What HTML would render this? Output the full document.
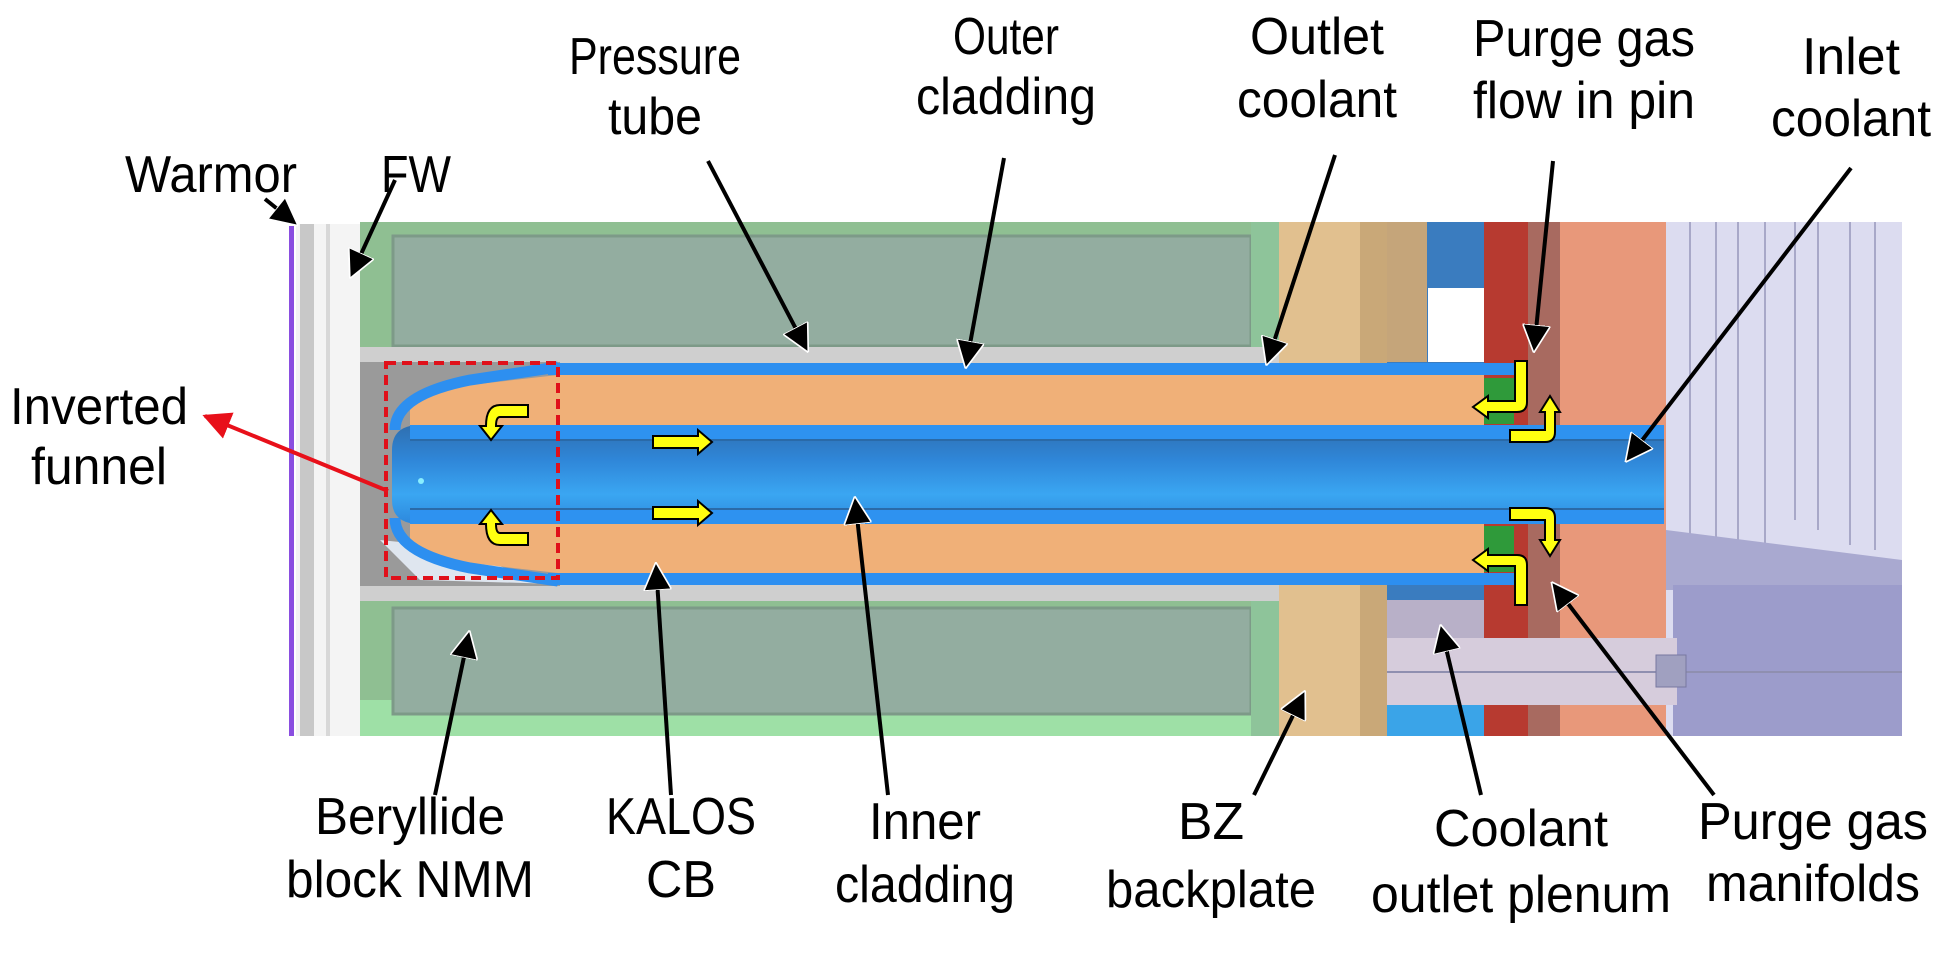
<!DOCTYPE html>
<html><head><meta charset="utf-8"><style>
html,body{margin:0;padding:0;background:#fff;}
svg{display:block;}
text{font-family:"Liberation Sans",Arial,sans-serif;font-size:52px;fill:#000;text-anchor:middle;}
</style></head><body>
<svg width="1938" height="953" viewBox="0 0 1938 953" xmlns="http://www.w3.org/2000/svg">
<defs>
<linearGradient id="tube" x1="0" y1="0" x2="0" y2="1">
<stop offset="0" stop-color="#2f6fb0"/><stop offset="0.35" stop-color="#2f86d8"/><stop offset="0.7" stop-color="#3aa6f2"/><stop offset="1" stop-color="#2d88dc"/>
</linearGradient>
<marker id="ah" viewBox="0 0 10 10" refX="9" refY="5" markerWidth="7" markerHeight="7" orient="auto-start-reverse" markerUnits="strokeWidth">
<path d="M0,0 L10,5 L0,10 z" fill="#000" stroke="#fff" stroke-width="0.6"/></marker>
<marker id="ahr" viewBox="0 0 10 10" refX="9" refY="5" markerWidth="7" markerHeight="7" orient="auto" markerUnits="strokeWidth">
<path d="M0,0 L10,5 L0,10 z" fill="#e8101a"/></marker>
</defs>

<rect x="296" y="224" width="64" height="512" fill="#f4f4f4"/>
<rect x="300" y="224" width="14" height="512" fill="#c8c8c8"/>
<rect x="326" y="224" width="4" height="512" fill="#d8d8d8"/>
<rect x="289" y="226" width="5" height="510" fill="#8a4ee0"/>
<rect x="360" y="222" width="920" height="514" fill="#8fbf92"/>
<rect x="360" y="700" width="920" height="36" fill="#9ee0a6"/>
<rect x="393" y="236" width="858" height="110" fill="#93ada0" stroke="#7d9a88" stroke-width="3"/>
<rect x="393" y="608" width="858" height="106" fill="#93ada0" stroke="#7d9a88" stroke-width="3"/>
<rect x="1251" y="222" width="28" height="514" fill="#8ec49a"/>
<rect x="360" y="347" width="1030" height="16" fill="#cfcfcf"/>
<rect x="360" y="585" width="1030" height="16" fill="#cfcfcf"/>
<rect x="360" y="362" width="200" height="224" fill="#9a9a9a"/>
<path d="M380,540 L420,580 L558,584 L430,545 Z" fill="#dfe6ef"/>
<rect x="1279" y="222" width="108" height="514" fill="#e1c08f"/>
<rect x="1360" y="222" width="27" height="514" fill="#c9a878"/>
<rect x="1387" y="222" width="97" height="514" fill="#3a7cbf"/>
<rect x="1387" y="222" width="40" height="140" fill="#c5a57a"/>
<rect x="1428" y="288" width="56" height="74" fill="#ffffff"/>
<rect x="1387" y="600" width="97" height="40" fill="#b8b0c8"/>
<rect x="1387" y="705" width="97" height="31" fill="#3aa4e8"/>
<rect x="1484" y="222" width="44" height="514" fill="#b73a30"/>
<rect x="1528" y="222" width="32" height="514" fill="#a86a60"/>
<rect x="1560" y="222" width="106" height="514" fill="#e8987a"/>
<rect x="1666" y="222" width="236" height="514" fill="#dcdcf0"/>
<g stroke="#a8a8c8" stroke-width="2">
<line x1="1690" y1="222" x2="1690" y2="560"/><line x1="1716" y1="222" x2="1716" y2="570"/>
<line x1="1738" y1="222" x2="1738" y2="580"/><line x1="1765" y1="222" x2="1765" y2="585"/>
<line x1="1795" y1="222" x2="1795" y2="520"/><line x1="1818" y1="222" x2="1818" y2="530"/>
<line x1="1850" y1="222" x2="1850" y2="545"/><line x1="1875" y1="222" x2="1875" y2="550"/>
</g>
<path d="M1666,530 L1902,560 L1902,590 L1666,590 Z" fill="#a9a9d0"/>
<rect x="1673" y="585" width="229" height="151" fill="#9c9ccb"/>
<rect x="1387" y="638" width="290" height="67" fill="#d6ccdc"/>
<line x1="1387" y1="672" x2="1902" y2="672" stroke="#8f8fb0" stroke-width="2"/>
<rect x="1656" y="655" width="30" height="32" fill="#a0a0c0" stroke="#7878a0"/>

<rect x="548" y="363" width="968" height="12" fill="#2d8ff0"/>
<rect x="548" y="573" width="968" height="12" fill="#2d8ff0"/>
<path d="M410,410 Q420,395 470,385 L558,375 L1484,375 L1484,425 L410,425 Z" fill="#f0b078"/>
<path d="M410,538 Q420,553 470,563 L558,573 L1484,573 L1484,524 L410,524 Z" fill="#f0b078"/>
<path d="M558,367 L470,380 Q395,395 395,430" fill="none" stroke="#2d8ff0" stroke-width="11"/>
<path d="M558,581 L470,568 Q395,553 395,518" fill="none" stroke="#2d8ff0" stroke-width="11"/>
<rect x="1484" y="378" width="30" height="46" fill="#2f9a3a"/>
<rect x="1484" y="526" width="30" height="46" fill="#2f9a3a"/>
<path d="M1664,425 L420,425 Q392,425 392,450 L392,500 Q392,524 420,524 L1664,524 Z" fill="url(#tube)"/>
<rect x="410" y="425" width="1254" height="14" fill="#2e92f0"/>
<rect x="410" y="510" width="1254" height="14" fill="#2e92f0"/>
<line x1="410" y1="440" x2="1664" y2="440" stroke="#2a6aa8" stroke-width="2"/>
<line x1="410" y1="509" x2="1664" y2="509" stroke="#2a6aa8" stroke-width="2"/>
<circle cx="421" cy="481" r="3" fill="#8ef"/>

<rect x="386" y="363" width="172" height="215" fill="none" stroke="#e0101a" stroke-width="4" stroke-dasharray="10,6"/>

<g fill="#ffff10" stroke="#000" stroke-width="2" stroke-linejoin="miter">
<path d="M653,436 L698,436 L698,430 L712,442 L698,454 L698,448 L653,448 Z"/>
<path d="M653,507 L698,507 L698,501 L712,513 L698,525 L698,519 L653,519 Z"/>
<path d="M528,405 L528,417 L500,417 Q496,417 496,426 L502,426 L491,440 L480,426 L486,426 Q486,405 500,405 Z"/>
<path d="M528,545 L528,533 L500,533 Q496,533 496,524 L502,524 L491,510 L480,524 L486,524 Q486,545 500,545 Z"/>
<path d="M1515,361 L1527,361 L1527,402 Q1527,412 1517,412 L1488,412 L1488,418 L1473,407 L1488,396 L1488,401 L1515,401 Z"/>
<path d="M1510,430 L1545,430 L1545,412 L1540,412 L1550,396 L1560,412 L1555,412 L1555,432 Q1555,442 1545,442 L1510,442 Z"/>
<path d="M1510,508 L1545,508 Q1555,508 1555,518 L1555,540 L1560,540 L1550,556 L1540,540 L1545,540 L1545,520 L1510,520 Z"/>
<path d="M1515,605 L1527,605 L1527,565 Q1527,555 1517,555 L1488,555 L1488,549 L1473,560 L1488,571 L1488,566 L1515,566 Z"/>
</g>

<g stroke="#000" stroke-width="4" fill="none" marker-end="url(#ah)">
<line x1="265" y1="199" x2="296" y2="224"/>
<line x1="395" y1="180" x2="351" y2="276"/>
<line x1="708" y1="161" x2="807" y2="350"/>
<line x1="1004" y1="158" x2="966" y2="366"/>
<line x1="1335" y1="155" x2="1267" y2="363"/>
<line x1="1553" y1="161" x2="1534" y2="350"/>
<line x1="1851" y1="168" x2="1627" y2="460"/>
<line x1="435" y1="795" x2="469" y2="633"/>
<line x1="671" y1="795" x2="656" y2="565"/>
<line x1="888" y1="795" x2="855" y2="499"/>
<line x1="1254" y1="795" x2="1304" y2="693"/>
<line x1="1481" y1="795" x2="1441" y2="627"/>
<line x1="1714" y1="795" x2="1553" y2="584"/>
</g>
<line x1="388" y1="491" x2="205" y2="416" stroke="#e8101a" stroke-width="4" marker-end="url(#ahr)"/>

<text x="211" y="192" textLength="172" lengthAdjust="spacingAndGlyphs">Warmor</text>
<text x="416" y="192" textLength="70" lengthAdjust="spacingAndGlyphs">FW</text>
<text x="655" y="74" textLength="172" lengthAdjust="spacingAndGlyphs">Pressure</text>
<text x="655" y="134" textLength="94" lengthAdjust="spacingAndGlyphs">tube</text>
<text x="1006" y="54" textLength="106" lengthAdjust="spacingAndGlyphs">Outer</text>
<text x="1006" y="114" textLength="180" lengthAdjust="spacingAndGlyphs">cladding</text>
<text x="1317" y="54" textLength="134" lengthAdjust="spacingAndGlyphs">Outlet</text>
<text x="1317" y="117" textLength="160" lengthAdjust="spacingAndGlyphs">coolant</text>
<text x="1584" y="56" textLength="222" lengthAdjust="spacingAndGlyphs">Purge gas</text>
<text x="1584" y="118" textLength="222" lengthAdjust="spacingAndGlyphs">flow in pin</text>
<text x="1851" y="74" textLength="98" lengthAdjust="spacingAndGlyphs">Inlet</text>
<text x="1851" y="136" textLength="160" lengthAdjust="spacingAndGlyphs">coolant</text>
<text x="99" y="424" textLength="178" lengthAdjust="spacingAndGlyphs">Inverted</text>
<text x="99" y="484" textLength="136" lengthAdjust="spacingAndGlyphs">funnel</text>
<text x="410" y="834" textLength="190" lengthAdjust="spacingAndGlyphs">Beryllide</text>
<text x="410" y="897" textLength="248" lengthAdjust="spacingAndGlyphs">block NMM</text>
<text x="681" y="834" textLength="150" lengthAdjust="spacingAndGlyphs">KALOS</text>
<text x="681" y="897" textLength="70" lengthAdjust="spacingAndGlyphs">CB</text>
<text x="925" y="839" textLength="112" lengthAdjust="spacingAndGlyphs">Inner</text>
<text x="925" y="902" textLength="180" lengthAdjust="spacingAndGlyphs">cladding</text>
<text x="1211" y="839" textLength="66" lengthAdjust="spacingAndGlyphs">BZ</text>
<text x="1211" y="907" textLength="210" lengthAdjust="spacingAndGlyphs">backplate</text>
<text x="1521" y="846" textLength="174" lengthAdjust="spacingAndGlyphs">Coolant</text>
<text x="1521" y="912" textLength="300" lengthAdjust="spacingAndGlyphs">outlet plenum</text>
<text x="1813" y="839" textLength="230" lengthAdjust="spacingAndGlyphs">Purge gas</text>
<text x="1813" y="901" textLength="214" lengthAdjust="spacingAndGlyphs">manifolds</text>
</svg>
</body></html>
